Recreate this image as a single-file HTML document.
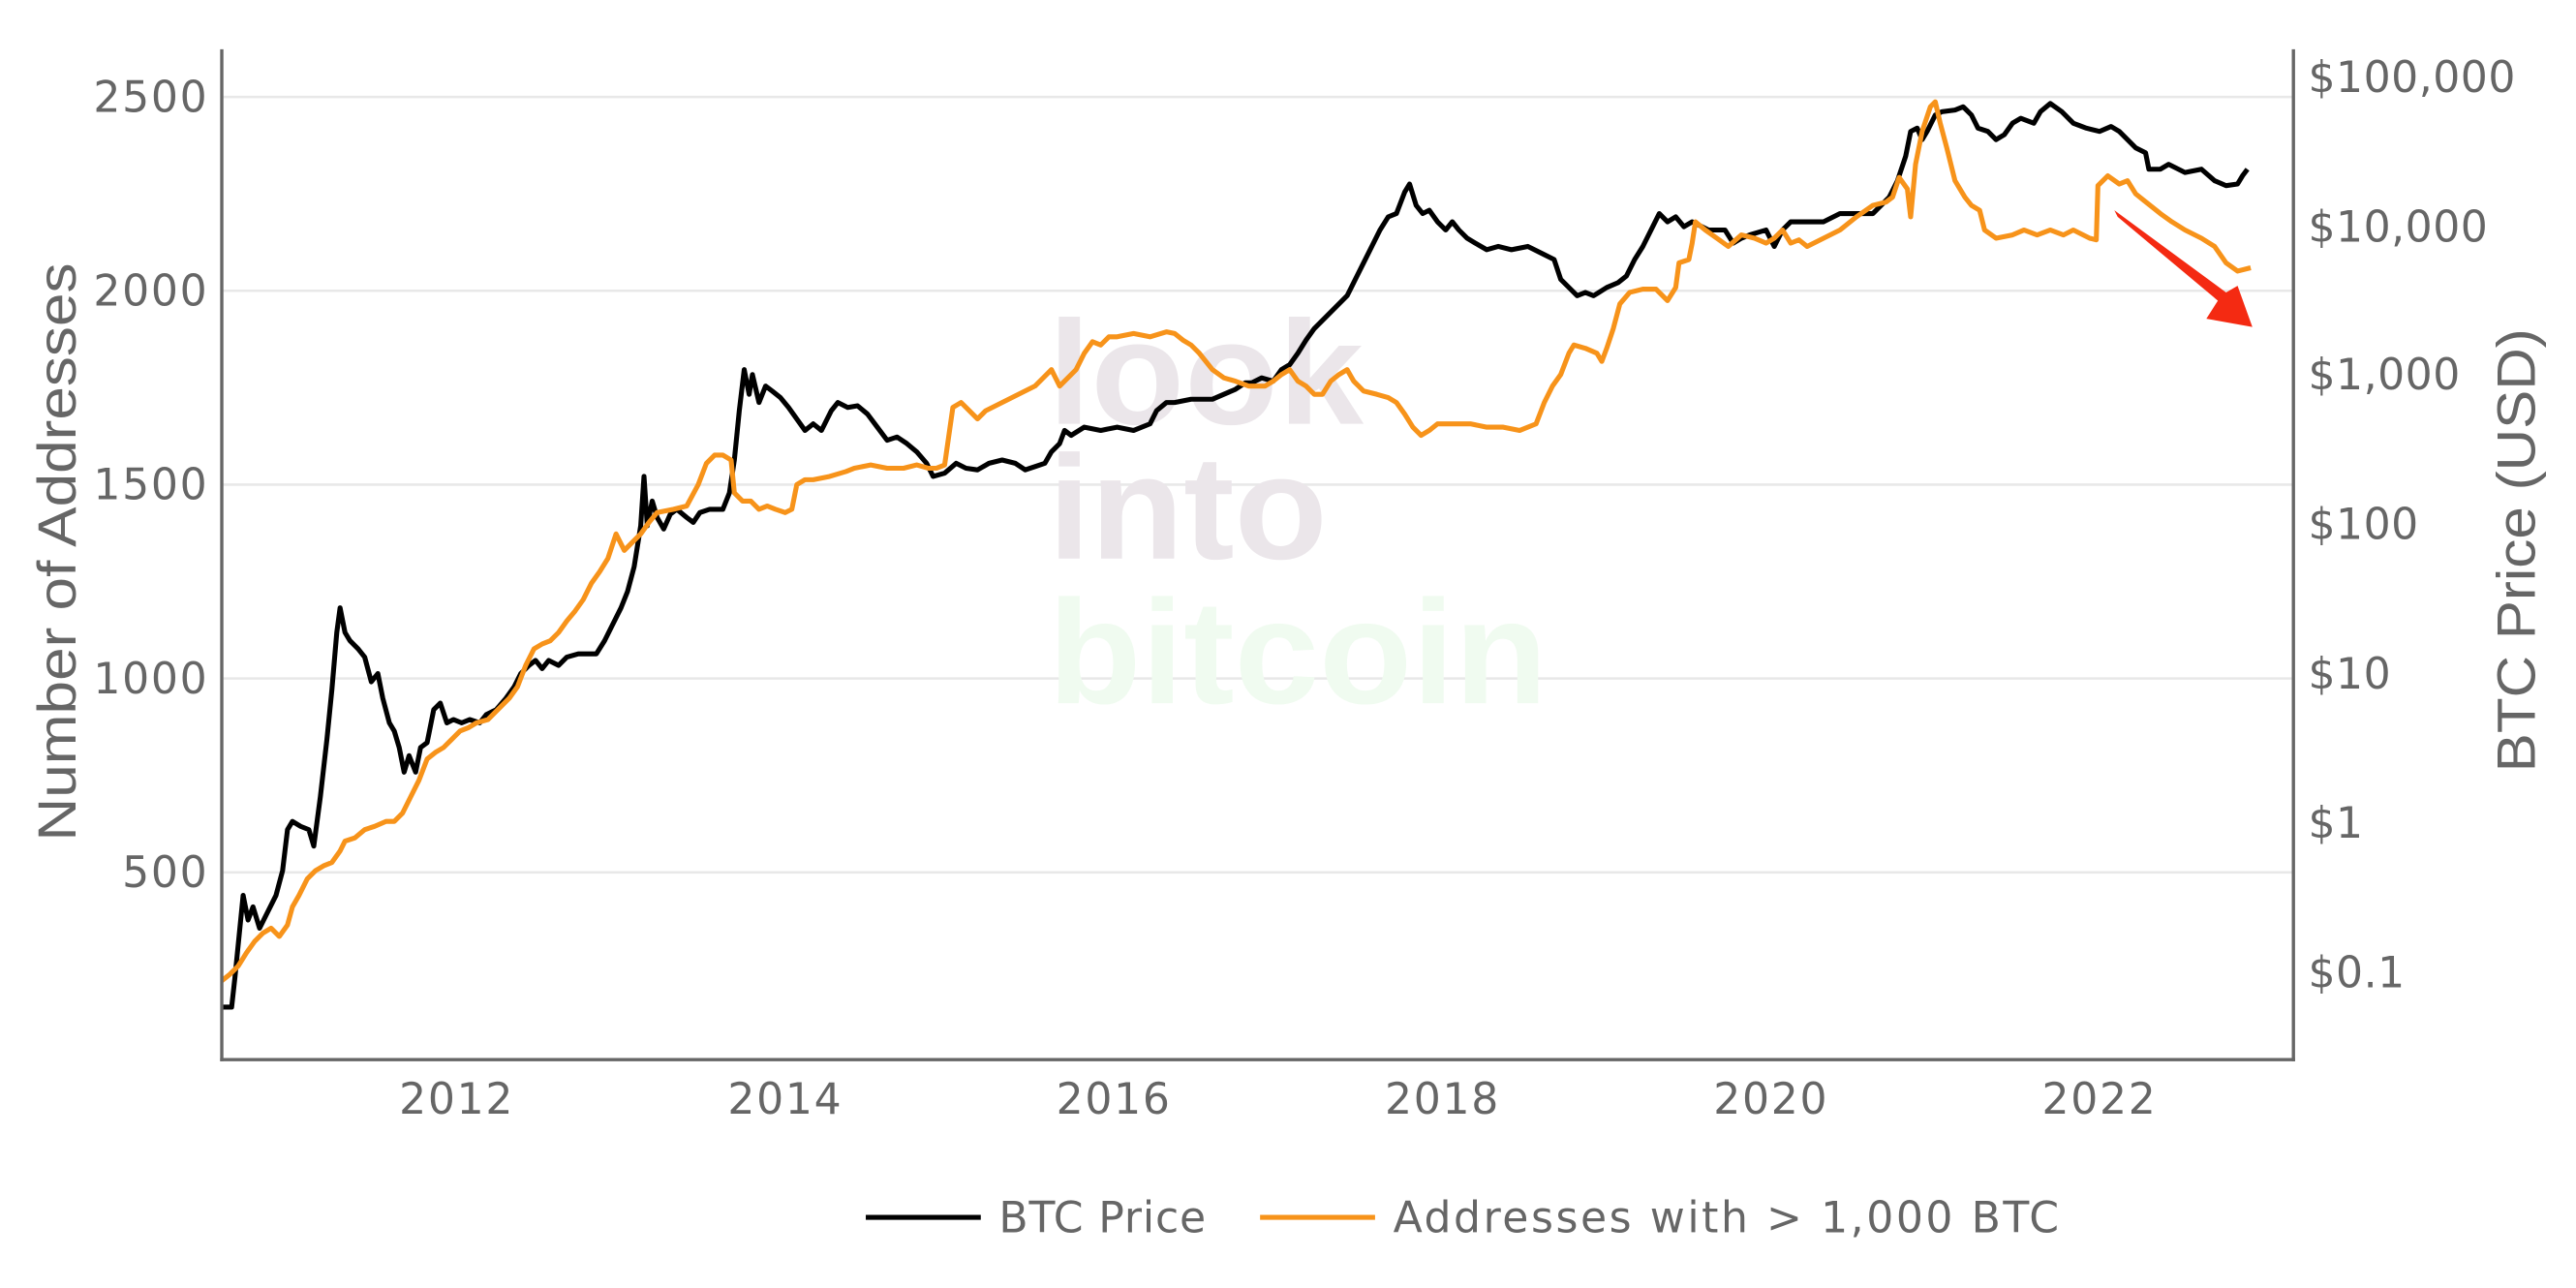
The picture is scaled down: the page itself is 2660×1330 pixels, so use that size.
<!DOCTYPE html>
<html><head><meta charset="utf-8"><style>html,body{margin:0;padding:0;background:#fff}svg{display:block}</style></head>
<body>
<svg width="2660" height="1330" viewBox="0 0 1568 784" xmlns="http://www.w3.org/2000/svg" font-family="DejaVu Sans, Liberation Sans, sans-serif">
<rect width="1568" height="784" fill="#fff"/>
<g stroke="#e8e8e8" stroke-width="1.5">
<line x1="136" x2="1396" y1="59" y2="59"/><line x1="136" x2="1396" y1="177" y2="177"/><line x1="136" x2="1396" y1="295" y2="295"/><line x1="136" x2="1396" y1="413" y2="413"/><line x1="136" x2="1396" y1="531" y2="531"/>
</g>
<g font-weight="bold" font-size="90" font-family="Liberation Sans, sans-serif">
<text x="638" y="258" fill="#ebe6ea" textLength="192" lengthAdjust="spacingAndGlyphs">look</text>
<text x="638" y="340" fill="#ebe6ea" textLength="170" lengthAdjust="spacingAndGlyphs">into</text>
<text x="638" y="428" fill="#f0fbf0" textLength="304" lengthAdjust="spacingAndGlyphs">bitcoin</text>
</g>
<g fill="#666" font-size="26" letter-spacing="1">
<g text-anchor="end"><text x="127" y="68">2500</text><text x="127" y="186">2000</text><text x="127" y="304">1500</text><text x="127" y="422">1000</text><text x="127" y="540">500</text></g>
<g letter-spacing="0.3"><text x="1405" y="56">$100,000</text><text x="1405" y="147">$10,000</text><text x="1405" y="237">$1,000</text><text x="1405" y="328">$100</text><text x="1405" y="419">$10</text><text x="1405" y="510">$1</text><text x="1405" y="601">$0.1</text></g>
<g text-anchor="middle"><text x="278" y="678">2012</text><text x="478" y="678">2014</text><text x="678" y="678">2016</text><text x="878" y="678">2018</text><text x="1078" y="678">2020</text><text x="1278" y="678">2022</text></g>
<text x="608" y="750" letter-spacing="0.5">BTC Price</text><text x="848" y="750" letter-spacing="1.5">Addresses with &gt; 1,000 BTC</text>
</g>
<g fill="#666" font-size="33" font-family="Liberation Sans, sans-serif">
<text transform="translate(46,512) rotate(-90)" textLength="352" lengthAdjust="spacingAndGlyphs">Number of Addresses</text>
<text transform="translate(1543,470) rotate(-90)" textLength="270" lengthAdjust="spacingAndGlyphs">BTC Price (USD)</text>
</g>
<line x1="527" x2="597" y1="741" y2="741" stroke="#000" stroke-width="3"/>
<line x1="767" x2="837" y1="741" y2="741" stroke="#f7931a" stroke-width="3"/>
<polyline fill="none" stroke="#000" stroke-width="3" stroke-linejoin="round" points="135,613 141,613 143,595 148,545 151,560 154,552 158,565 163,555 168,545 172,530 175,505 178,500 183,503 188,505 191,515 195,485 199,450 202,420 205,385 207,370 210,385 213,390 218,395 222,400 226,415 230,410 233,425 237,440 240,445 243,455 246,470 249,460 253,470 256,455 260,452 264,432 268,428 272,440 276,438 281,440 286,438 292,440 296,435 302,432 308,425 313,418 317,410 322,405 326,402 330,407 334,402 340,405 345,400 352,398 358,398 363,398 368,390 373,380 378,370 382,360 386,345 390,320 392,290 394,320 397,305 400,315 404,322 408,313 412,310 418,315 422,318 426,312 432,310 440,310 444,300 447,280 450,250 453,225 456,240 458,228 462,245 466,235 470,238 475,242 480,248 485,255 490,262 495,258 500,262 506,250 510,245 516,248 522,247 528,252 534,260 540,268 546,266 552,270 558,275 564,282 568,290 575,288 582,282 588,285 595,286 602,282 610,280 618,282 624,286 630,284 636,282 640,275 645,270 648,262 652,265 660,260 670,262 680,260 690,262 700,258 704,250 710,245 715,245 725,243 738,243 745,240 752,237 758,233 762,233 768,230 775,232 780,225 785,222 790,215 795,207 800,200 805,195 810,190 815,185 820,180 825,170 830,160 835,150 840,140 845,132 850,130 855,117 858,112 862,125 866,130 870,128 875,135 880,140 884,135 888,140 893,145 898,148 905,152 912,150 920,152 930,150 940,155 946,158 950,170 955,175 960,180 965,178 970,180 978,175 985,172 990,168 995,158 1000,150 1005,140 1010,130 1015,135 1020,132 1025,138 1030,135 1040,140 1050,140 1055,148 1060,145 1065,143 1075,140 1080,150 1085,140 1090,135 1100,135 1110,135 1120,130 1130,130 1140,130 1145,125 1150,120 1155,110 1160,95 1163,80 1167,78 1170,85 1173,80 1178,70 1182,68 1190,67 1195,65 1200,70 1204,78 1210,80 1215,85 1220,82 1225,75 1230,72 1238,75 1242,68 1248,63 1255,68 1262,75 1270,78 1278,80 1285,77 1290,80 1295,85 1300,90 1306,93 1308,103 1315,103 1320,100 1330,105 1340,103 1348,110 1355,113 1362,112 1365,107 1368,103"/>
<polyline fill="none" stroke="#f7931a" stroke-width="3" stroke-linejoin="round" points="135,597 140,593 145,588 150,580 155,573 160,568 165,565 170,570 175,563 178,552 182,545 187,535 192,530 197,527 202,525 207,518 210,512 216,510 222,505 228,503 235,500 240,500 245,495 250,485 255,475 260,462 265,458 270,455 275,450 280,445 285,443 290,440 297,438 300,435 305,430 310,425 315,418 320,405 325,395 330,392 335,390 340,385 345,378 350,372 355,365 360,355 365,348 370,340 375,325 380,335 385,330 390,325 395,318 400,312 410,310 418,308 425,295 430,282 435,277 440,277 445,280 447,300 452,305 457,305 462,310 467,308 472,310 478,312 482,310 485,295 490,292 495,292 505,290 515,287 520,285 530,283 540,285 550,285 558,283 565,285 570,285 575,283 578,262 580,248 585,245 590,250 595,255 600,250 610,245 620,240 630,235 640,225 645,235 650,230 655,225 660,215 665,208 670,210 675,205 680,205 690,203 700,205 710,202 715,203 720,207 725,210 730,215 738,225 745,230 752,232 760,235 770,235 775,232 780,228 785,225 790,232 795,235 800,240 805,240 810,232 815,228 820,225 824,232 830,238 838,240 845,242 850,245 855,252 860,260 865,265 870,262 875,258 885,258 895,258 905,260 915,260 925,262 935,258 940,245 945,235 950,228 955,215 958,210 965,212 972,215 975,220 978,212 982,200 986,185 992,178 1000,176 1008,176 1015,183 1020,175 1022,160 1028,158 1030,148 1032,135 1038,140 1045,145 1052,150 1060,143 1068,145 1075,148 1080,145 1085,140 1090,148 1095,146 1100,150 1110,145 1120,140 1130,132 1140,125 1148,123 1152,120 1156,108 1161,115 1163,132 1166,100 1170,80 1175,65 1178,62 1181,75 1185,90 1190,110 1196,120 1200,125 1205,128 1208,140 1215,145 1225,143 1232,140 1240,143 1248,140 1256,143 1262,140 1272,145 1276,146 1277,113 1283,107 1290,112 1295,110 1300,118 1305,122 1315,130 1322,135 1330,140 1340,145 1348,150 1355,160 1362,165 1370,163"/>
<polygon fill="#f42a12" points="1287,128 1289,132 1350,183 1343,194 1371,199 1362,174 1355,178"/>
<g stroke="#666" stroke-width="2" fill="none">
<line x1="135" y1="30" x2="135" y2="646"/><line x1="134" y1="645" x2="1397" y2="645"/><line x1="1396" y1="30" x2="1396" y2="646"/>
</g>
</svg>
</body></html>
